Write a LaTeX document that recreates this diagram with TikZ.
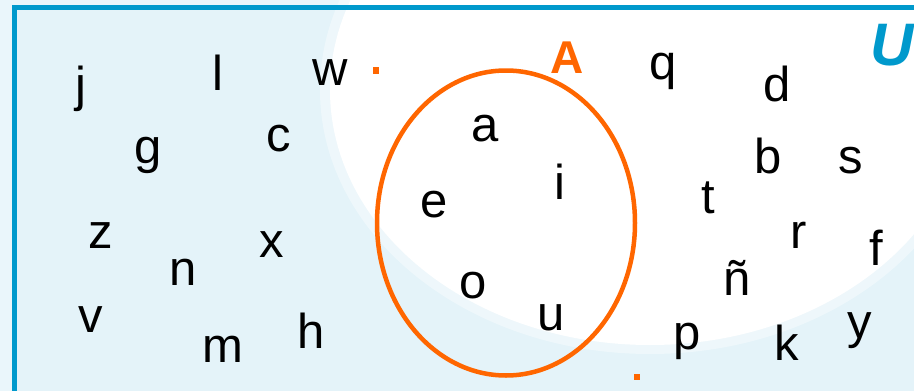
\documentclass[tikz,border=0pt]{standalone}
\usepackage{fontspec}
\setmainfont{Liberation Sans}
\definecolor{skyback}{HTML}{E4F3F9}
\definecolor{skyedge}{HTML}{EAF6FB}
\definecolor{frameblue}{HTML}{0099CC}
\definecolor{setorange}{HTML}{FF6600}
\tikzset{
  elem/.style={anchor=base, inner sep=0pt, font=\fontsize{49}{58}\selectfont},
  setname/.style={anchor=base, inner sep=0pt, text=setorange, font=\bfseries\fontsize{46}{54}\selectfont},
  univname/.style={anchor=base, inner sep=0pt, text=frameblue, font=\bfseries\itshape\fontsize{60}{70}\selectfont}
}
\begin{document}
\begin{tikzpicture}[x=1pt, y=-1pt]
\useasboundingbox (0,0) rectangle (914,391);
\begin{scope}
\clip (0,0) rectangle (914,391);
\fill[skyedge] (0,0) rectangle (914,391);
\fill[skyback] (14.5,7) rectangle (914,391);
\fill[white, opacity=0.4] (650,90) ellipse [x radius=330, y radius=264];
\fill[white] (650,90) ellipse [x radius=320, y radius=255];
\draw[frameblue, line width=5pt] (14.5,420) -- (14.5,7) -- (930,7);
\end{scope}

\draw[setorange, line width=4.5pt] (506,223) ellipse [x radius=129, y radius=152.5];
\fill[setorange] (373,67) rectangle (379,74);
\fill[setorange] (634,374) rectangle (640,380);

\node[setname] (A) at (567.5,73) {A};
\node[univname] (U) at (892,65) {U};

\foreach \id/\txt/\x/\y in {
  a/a/485/141, e/e/434/217, i/i/560/199, o/o/473/298, u/u/551/330,
  j/j/81/101, l/l/218/90, w/w/330/85, g/g/148/163, c/c/279/151,
  z/z/101/248, x/x/272/257, n/n/183/285, v/v/91/332, m/m/223/362, h/h/311/348,
  q/q/663/79, d/d/777/101, b/b/768/173, s/s/851/173, t/t/708/213,
  r/r/799/248, f/f/876/265, enye/ñ/737/295, p/p/687/349, k/k/787/360, y/y/860/338}
  \node[elem] (\id) at (\x,\y) {\txt};
\end{tikzpicture}
\end{document}
